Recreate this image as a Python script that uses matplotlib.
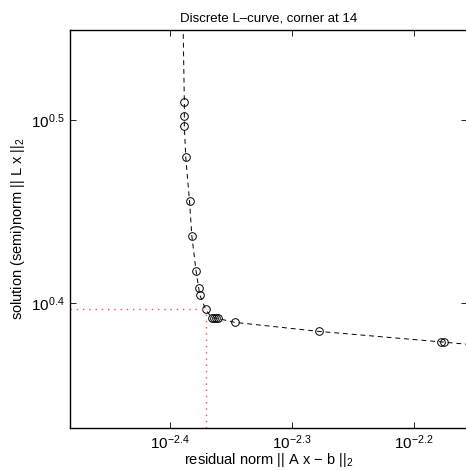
import numpy as np
import matplotlib
matplotlib.use('Agg')
import matplotlib.pyplot as plt
from matplotlib.ticker import FixedLocator, FuncFormatter, NullLocator

plt.rcParams['font.family'] = ['Liberation Sans', 'DejaVu Sans']
plt.rcParams['mathtext.fontset'] = 'custom'
plt.rcParams['mathtext.rm'] = 'Liberation Sans'
plt.rcParams['mathtext.it'] = 'Liberation Sans:italic'

# log10 of residual norm / solution norm along the L-curve
log_rho = [-2.3899, -2.38828, -2.38828, -2.38828, -2.38713, -2.38402, -2.38213,
           -2.37869, -2.37648, -2.37557, -2.37082, -2.36598, -2.36434, -2.36270,
           -2.36107, -2.34672, -2.27762, -2.17787, -2.17582, -2.12]
log_eta = [0.5766, 0.50947, 0.50181, 0.49672, 0.47937, 0.45539, 0.43651,
           0.41751, 0.40788, 0.40421, 0.39639, 0.39190, 0.39174, 0.39163,
           0.39146, 0.38927, 0.38435, 0.37865, 0.37849, 0.3752]
corner_idx = 10

rho = 10.0 ** np.array(log_rho)
eta = 10.0 ** np.array(log_eta)

xlim = (10 ** -2.482, 10 ** -2.1566)
ylim = (10 ** 0.3316, 10 ** 0.549)

fig = plt.figure(figsize=(4.66, 4.71), dpi=100)
ax = fig.add_axes([70 / 466, 43 / 471, 397 / 466, 398 / 471])

ax.plot(rho, eta, 'k--', lw=0.7, dashes=(5, 4))
ax.plot(rho, eta, 'o', mfc='none', mec='k', ms=5.5, mew=0.7)

# dotted guides to the corner
rc, ec = rho[corner_idx], eta[corner_idx]
ax.plot([xlim[0], rc], [ec, ec], color='#ff4a4a', lw=1.0, dashes=(1, 3.5))
ax.plot([rc, rc], [ylim[0], ec], color='#ff4a4a', lw=1.0, dashes=(1, 3.5))

ax.set_xscale('log')
ax.set_yscale('log')
ax.set_xlim(*xlim)
ax.set_ylim(*ylim)

xt = [-2.4, -2.3, -2.2]
yt = [0.4, 0.5]
ax.xaxis.set_major_locator(FixedLocator([10 ** v for v in xt]))
ax.yaxis.set_major_locator(FixedLocator([10 ** v for v in yt]))
ax.xaxis.set_minor_locator(NullLocator())
ax.yaxis.set_minor_locator(NullLocator())
fmt = FuncFormatter(lambda v, p: r'$\mathregular{10^{%.1f}}$' % np.log10(v))
ax.xaxis.set_major_formatter(fmt)
ax.yaxis.set_major_formatter(fmt)
ax.tick_params(direction='in', length=4, width=0.6, top=True, right=True,
               labelsize=11, pad=4)
for s in ax.spines.values():
    s.set_linewidth(1.0)

ax.set_xlabel(r'residual norm || A x $-$ b ||$_2$', fontsize=10.5, labelpad=-1)
ax.set_ylabel(r'solution (semi)norm || L x ||$_2$', fontsize=10.5, labelpad=3)
ax.set_title('Discrete L\u2013curve, corner at 14', fontsize=9.5, pad=6)

fig.savefig('out.png', dpi=100)
